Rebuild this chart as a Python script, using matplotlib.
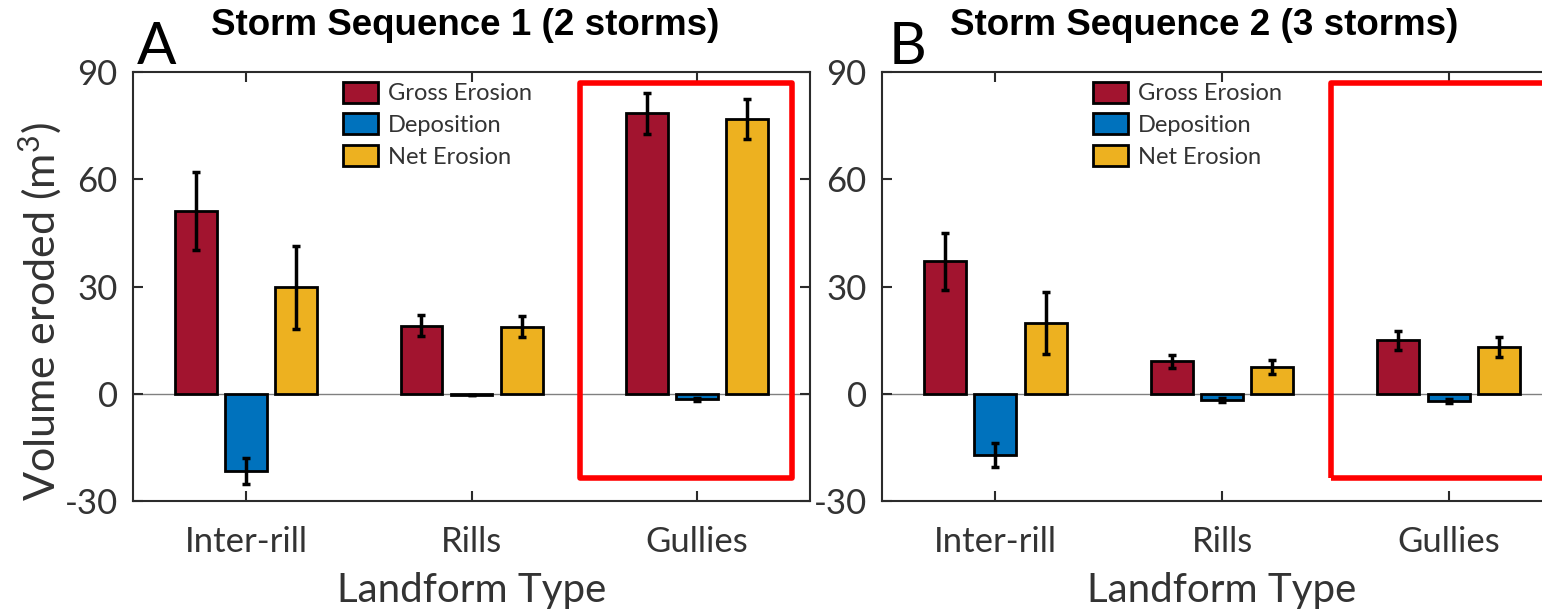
import matplotlib
matplotlib.use("Agg")
import matplotlib.pyplot as plt
from matplotlib.patches import Rectangle
import numpy as np

# data (m^3)
landforms = ["Inter-rill", "Rills", "Gullies"]
series = ["Gross Erosion", "Deposition", "Net Erosion"]

gross_1 = [51.2, 19.1, 78.5]
gross_1_err = [11.0, 3.0, 5.7]
dep_1 = [-21.6, -0.3, -1.5]
dep_1_err = [3.7, 0.0, 0.4]
net_1 = [29.8, 18.8, 77.0]
net_1_err = [11.7, 3.0, 5.6]

gross_2 = [37.1, 9.1, 15.0]
gross_2_err = [8.0, 1.9, 2.7]
dep_2 = [-17.1, -1.7, -1.9]
dep_2_err = [3.4, 0.5, 0.6]
net_2 = [19.9, 7.5, 13.1]
net_2_err = [8.6, 2.0, 2.8]

colors = ["#A2142F", "#0072BD", "#EDB120"]

plt.rcParams['font.family'] = ['Lato', 'DejaVu Sans']
plt.rcParams['mathtext.fontset'] = 'custom'
plt.rcParams['mathtext.rm'] = 'Lato'
plt.rcParams['mathtext.it'] = 'Lato'
plt.rcParams['axes.unicode_minus'] = False

fig = plt.figure(figsize=(15.42, 6.12), dpi=100)
axA = fig.add_axes([0.0863, 0.181, 0.439, 0.701])
axB = fig.add_axes([0.572, 0.181, 0.441, 0.701])

spine_col = "#2b2b2b"
text_col = "#333333"


def draw_panel(ax, vals, errs):
    x = np.arange(1, len(landforms) + 1)
    offs = [-0.222, 0.0, 0.222]
    ax.axhline(0, color="#808080", lw=1.0, zorder=1)
    for i in range(3):
        ax.bar(x + offs[i], vals[i], width=0.185, color=colors[i],
               edgecolor="black", linewidth=2, label=series[i], zorder=2)
        ax.errorbar(x + offs[i], vals[i], yerr=errs[i], fmt="none",
                    ecolor="black", elinewidth=2.5, capsize=3, capthick=2.5,
                    zorder=3)
    ax.set_xlim(0.5, 3.5)
    ax.set_ylim(-30, 90)
    ax.set_yticks([-30, 0, 30, 60, 90])
    ax.set_xticks(x)
    ax.set_xticklabels(landforms)
    ax.tick_params(direction="in", length=7, width=1.5, top=True, right=True,
                   colors=spine_col, labelcolor=text_col, labelsize=25)
    ax.tick_params(axis="x", pad=18)
    ax.tick_params(axis="y", pad=11)
    for s in ax.spines.values():
        s.set_color(spine_col)
        s.set_linewidth(1.5)
    ax.set_xlabel("Landform Type", fontsize=29, color=text_col, labelpad=10)
    leg = ax.legend(loc="upper left", bbox_to_anchor=(0.31, 0.978),
                    frameon=False, fontsize=17, handlelength=1.5,
                    handleheight=1.0, handletextpad=0.4, labelspacing=0.38,
                    borderpad=0, borderaxespad=0)
    for t in leg.get_texts():
        t.set_color(text_col)


draw_panel(axA, [gross_1, dep_1, net_1], [gross_1_err, dep_1_err, net_1_err])
draw_panel(axB, [gross_2, dep_2, net_2], [gross_2_err, dep_2_err, net_2_err])

# red highlight boxes around the gullies group
for ax, x1 in [(axA, 3.42), (axB, 3.7)]:
    ax.add_patch(Rectangle((2.48, -23.6), x1 - 2.48, 86.9 + 23.6, fill=False,
                           edgecolor="#FF0000", lw=4, clip_on=False,
                           joinstyle="round", zorder=5))

fig.text(0.026, 0.49, "Volume eroded (m$^3$)", rotation=90, fontsize=31,
         color=text_col, ha="center", va="center")

fig.text(0.089, 0.895, "A", fontsize=42, color="black", ha="left", va="baseline")
fig.text(0.576, 0.895, "B", fontsize=42, color="black", ha="left", va="baseline")

fig.text(0.302, 0.958, "Storm Sequence 1 (2 storms)", fontsize=26.5,
         fontweight="bold", family="Liberation Sans", ha="center", va="center")
fig.text(0.781, 0.958, "Storm Sequence 2 (3 storms)", fontsize=26.5,
         fontweight="bold", family="Liberation Sans", ha="center", va="center")

fig.savefig("out.png", dpi=100)
